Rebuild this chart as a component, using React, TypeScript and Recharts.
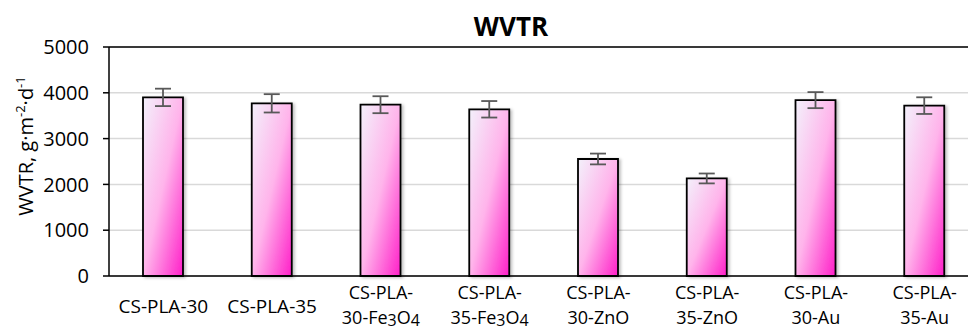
import React from 'react';
import { BarChart, Bar, XAxis, YAxis, CartesianGrid, ErrorBar, ReferenceLine } from 'recharts';

const samples = ['CS-PLA-30', 'CS-PLA-35', 'CS-PLA-30-Fe3O4', 'CS-PLA-35-Fe3O4', 'CS-PLA-30-ZnO', 'CS-PLA-35-ZnO', 'CS-PLA-30-Au', 'CS-PLA-35-Au'];
const wvtr = [3900, 3770, 3740, 3640, 2555, 2130, 3840, 3720];
const wvtrErr = [190, 200, 185, 180, 118, 108, 175, 182];
const yTicks = [0, 1000, 2000, 3000, 4000, 5000];

const data = samples.map((name, i) => ({ name, value: wvtr[i], err: wvtrErr[i] }));

const FONT = '"Open Sans", sans-serif';

// digits right after a letter are chemical subscripts (Fe3O4)
function formula(text: string) {
  const parts = text.split(/(?<=[A-Za-z])(\d)/);
  let sub = false;
  return parts.map((p, i) => {
    if (p === '') return null;
    const isSub = i % 2 === 1;
    const dy = isSub && !sub ? 2 : !isSub && sub ? -2 : 0;
    sub = isSub;
    return (
      <tspan key={i} dy={dy} fontSize={isSub ? 16 : 18}>{p}</tspan>
    );
  });
}

function SampleTick(props: any) {
  const { x, y, payload } = props;
  const name: string = payload.value;
  const parts = name.split('-');
  if (parts.length <= 3) {
    return (
      <text x={x} y={y + 37} textAnchor="middle" fontFamily={FONT} fontSize={19} fill="#000">{name}</text>
    );
  }
  const rest = parts.slice(2).join('-');
  return (
    <g>
      <text x={x} y={y + 23} textAnchor="middle" fontFamily={FONT} fontSize={18} fill="#000">CS-PLA-</text>
      <text x={x} y={y + 48} textAnchor="middle" fontFamily={FONT} fontSize={18} fill="#000">{formula(rest)}</text>
    </g>
  );
}

export default function App() {
  return (
    <div style={{ position: 'fixed', left: 0, top: 0, width: 968, height: 331, overflow: 'hidden', background: '#fff' }}>
      <div style={{ position: 'absolute', left: 411, top: 8, width: 200, textAlign: 'center', fontFamily: FONT, fontWeight: 700, fontSize: 26, lineHeight: '36px', color: '#000' }}>
        WVTR
      </div>
      <svg width={50} height={331} style={{ position: 'absolute', left: 0, top: 0 }}>
        <text transform="translate(33,146) rotate(-90)" textAnchor="middle" fontFamily={FONT} fontSize={20} fill="#000">
          WVTR, g·m<tspan dy={-8} fontSize={13}>-2</tspan><tspan dy={8}>·d</tspan><tspan dy={-8} fontSize={13}>-1</tspan>
        </text>
      </svg>
      <BarChart width={990} height={331} data={data} margin={{ top: 47, right: 11, bottom: 0, left: 49 }}>
        <defs>
          <linearGradient id="barFill" x1="0" y1="0" x2="1" y2="1">
            <stop offset="0%" stopColor="#f3f1fb" />
            <stop offset="50%" stopColor="#ffb4eb" />
            <stop offset="100%" stopColor="#ff1ec8" />
          </linearGradient>
          <filter id="shade" x="-20%" y="-5%" width="150%" height="115%">
            <feDropShadow dx="2" dy="1" stdDeviation="1.5" floodColor="#000" floodOpacity="0.25" />
          </filter>
        </defs>
        <CartesianGrid vertical={false} stroke="#d9d9d9" strokeWidth={1.5} />
        <XAxis dataKey="name" interval={0} tickLine={false} tickSize={0} tickMargin={0} height={55}
          axisLine={{ stroke: '#000', strokeWidth: 1.5 }} tick={<SampleTick />} />
        <YAxis domain={[0, 5000]} ticks={yTicks} width={60} tickSize={6} tickMargin={14}
          axisLine={{ stroke: '#000', strokeWidth: 1.5 }} tickLine={{ stroke: '#000', strokeWidth: 1.5 }}
          tick={{ fontFamily: FONT, fontSize: 20, fill: '#000' }} />
        <ReferenceLine y={5000} stroke="#000" strokeWidth={1.5} />
        <Bar dataKey="value" barSize={40} fill="url(#barFill)" stroke="#000" strokeWidth={1.8}
          style={{ filter: 'url(#shade)' }} isAnimationActive={false}>
          <ErrorBar dataKey="err" width={8} stroke="#595959" strokeWidth={1.8} />
        </Bar>
      </BarChart>
    </div>
  );
}
